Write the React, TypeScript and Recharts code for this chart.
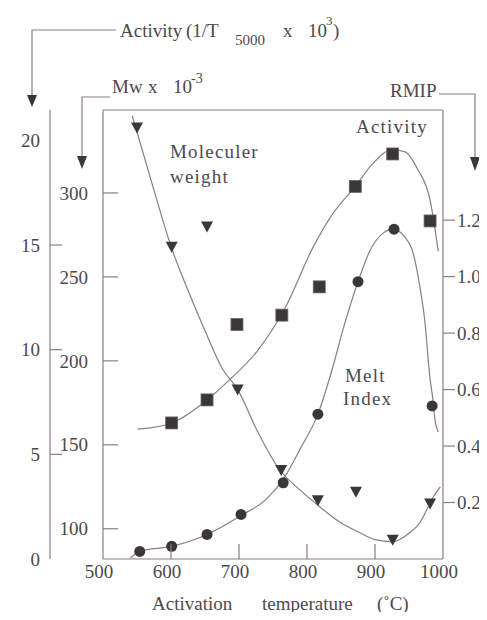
import React from 'react';
import { ComposedChart, Line, Scatter, XAxis, YAxis } from 'recharts';

const xTicks = [500, 600, 700, 800, 900, 1000];
const activityTicks = [0, 5, 10, 15, 20];
const mwTicks = [100, 150, 200, 250, 300];
const rmipTicks = [0.2, 0.4, 0.6, 0.8, 1.0, 1.2];

// Measured points (markers)
const mwPoints = [
  { t: 550, m: 339 },
  { t: 601, m: 268 },
  { t: 653, m: 280 },
  { t: 698, m: 183 },
  { t: 762, m: 135 },
  { t: 816, m: 117 },
  { t: 872, m: 122 },
  { t: 926, m: 93.5 },
  { t: 981, m: 115 },
];
const activityPoints = [
  { t: 601, a: 6.5 },
  { t: 653, a: 7.6 },
  { t: 697, a: 11.2 },
  { t: 763, a: 11.65 },
  { t: 818, a: 13.0 },
  { t: 871, a: 17.8 },
  { t: 926, a: 19.35 },
  { t: 981, a: 16.15 },
];
const rmipPoints = [
  { t: 554, r: 0.027 },
  { t: 601, r: 0.045 },
  { t: 653, r: 0.087 },
  { t: 703, r: 0.158 },
  { t: 765, r: 0.27 },
  { t: 816, r: 0.513 },
  { t: 875, r: 0.982 },
  { t: 928, r: 1.168 },
  { t: 984, r: 0.542 },
];

// Hand-drawn fitted curves
const mwCurve = [
  { t: 543, m: 346 },
  { t: 579, m: 296 },
  { t: 601, m: 267 },
  { t: 623, m: 244 },
  { t: 650, m: 218 },
  { t: 676, m: 195 },
  { t: 698, m: 183 },
  { t: 726, m: 159 },
  { t: 760, m: 135 },
  { t: 790, m: 123 },
  { t: 819, m: 113 },
  { t: 848, m: 104 },
  { t: 878, m: 97.6 },
  { t: 900, m: 93.5 },
  { t: 926, m: 92.3 },
  { t: 951, m: 97.6 },
  { t: 966, m: 103.6 },
  { t: 985, m: 118.5 },
  { t: 996, m: 125 },
];
const activityCurve = [
  { t: 551, a: 6.2 },
  { t: 601, a: 6.5 },
  { t: 653, a: 7.6 },
  { t: 684, a: 8.5 },
  { t: 726, a: 9.9 },
  { t: 768, a: 12.0 },
  { t: 809, a: 14.9 },
  { t: 838, a: 16.5 },
  { t: 871, a: 17.8 },
  { t: 897, a: 18.9 },
  { t: 925, a: 19.55 },
  { t: 944, a: 19.45 },
  { t: 963, a: 18.6 },
  { t: 981, a: 17.15 },
  { t: 993, a: 14.7 },
];
const rmipCurve = [
  { t: 540, r: 0.003 },
  { t: 554, r: 0.027 },
  { t: 601, r: 0.045 },
  { t: 653, r: 0.087 },
  { t: 703, r: 0.154 },
  { t: 741, r: 0.214 },
  { t: 765, r: 0.282 },
  { t: 790, r: 0.39 },
  { t: 816, r: 0.513 },
  { t: 838, r: 0.68 },
  { t: 853, r: 0.813 },
  { t: 875, r: 0.982 },
  { t: 893, r: 1.094 },
  { t: 912, r: 1.154 },
  { t: 926, r: 1.168 },
  { t: 944, r: 1.14 },
  { t: 956, r: 1.084 },
  { t: 966, r: 0.964 },
  { t: 973, r: 0.848 },
  { t: 981, r: 0.637 },
  { t: 985, r: 0.567 },
  { t: 988, r: 0.496 },
  { t: 993, r: 0.45 },
];

const FONT = 'Liberation Serif, DejaVu Serif, serif';
const TEXT = '#4f484d';
const LINE = '#8a7d87';
const MARK = '#3b3739';
const FS = 19;

const TriShape = (p: any) => {
  const { cx, cy } = p;
  return <polygon points={`${cx - 6},${cy - 5} ${cx + 6},${cy - 5} ${cx},${cy + 6}`} fill={MARK} />;
};
const SquareShape = (p: any) => {
  const { cx, cy } = p;
  return <rect x={cx - 6} y={cy - 6} width={12} height={12} fill={MARK} stroke="#6a6568" strokeWidth={0.8} />;
};
const CircleShape = (p: any) => {
  const { cx, cy } = p;
  return <circle cx={cx} cy={cy} r={5.5} fill={MARK} />;
};

const XTick = (p: any) => {
  const { x, y, payload } = p;
  const v = payload.value;
  const inner = v !== 500 && v !== 1000;
  return (
    <g>
      {inner && <line x1={x} y1={y} x2={x} y2={y - 15} stroke={LINE} strokeWidth={1.2} />}
      <text x={x - 4} y={y + 19} textAnchor="middle" fontSize={FS} fontFamily={FONT} fill={TEXT}>
        {v}
      </text>
    </g>
  );
};

const MwTick = (p: any) => {
  const { x, y, payload } = p;
  return (
    <g>
      <line x1={x} y1={y} x2={x + 15} y2={y} stroke={LINE} strokeWidth={1.2} />
      <text x={x - 15} y={y} dy="0.35em" textAnchor="end" fontSize={FS} fontFamily={FONT} fill={TEXT}>
        {payload.value}
      </text>
    </g>
  );
};

const ActTick = (p: any) => {
  const { x, y, payload } = p;
  const v = payload.value;
  const showLine = v !== 0 && v !== 20;
  return (
    <g>
      {showLine && <line x1={x} y1={y} x2={x + 12} y2={y} stroke={LINE} strokeWidth={1.2} />}
      <text x={x - 10} y={y} dy="0.35em" textAnchor="end" fontSize={FS} fontFamily={FONT} fill={TEXT}>
        {v}
      </text>
    </g>
  );
};

const RmipTick = (p: any) => {
  const { x, y, payload } = p;
  return (
    <g>
      <line x1={x} y1={y} x2={x + 12} y2={y} stroke={LINE} strokeWidth={1.2} />
      <text x={x + 14} y={y} dy="0.35em" textAnchor="start" fontSize={FS} fontFamily={FONT} fill={TEXT}>
        {Number(payload.value).toFixed(1)}
      </text>
    </g>
  );
};

export default function App() {
  return (
    <div style={{ position: 'relative', width: 487, height: 620, margin: -8 }}>
      <ComposedChart width={487} height={620} margin={{ top: 109, right: 0, bottom: 0, left: 0 }}>
        <XAxis
          dataKey="t"
          type="number"
          domain={[500, 1000]}
          ticks={xTicks}
          height={61}
          tickSize={0}
          tickMargin={0}
          tick={XTick}
          axisLine={{ stroke: LINE, strokeWidth: 1.2 }}
          tickLine={false}
          allowDataOverflow
        />
        <XAxis
          xAxisId="top"
          dataKey="t"
          type="number"
          orientation="top"
          domain={[500, 1000]}
          height={1}
          tick={false}
          tickLine={false}
          axisLine={{ stroke: LINE, strokeWidth: 1.2 }}
        />
        <YAxis
          yAxisId="left1"
          dataKey="m"
          type="number"
          orientation="left"
          width={53}
          domain={[82, 349.4]}
          ticks={mwTicks}
          tickSize={0}
          tickMargin={0}
          tick={MwTick}
          tickLine={false}
          axisLine={{ stroke: LINE, strokeWidth: 1.2 }}
          allowDataOverflow
        />
        <YAxis
          yAxisId="left2"
          dataKey="a"
          type="number"
          orientation="left"
          width={50}
          domain={[0, 21.45]}
          ticks={activityTicks}
          tickSize={0}
          tickMargin={0}
          tick={ActTick}
          tickLine={false}
          axisLine={{ stroke: LINE, strokeWidth: 1.2 }}
          allowDataOverflow
        />
        <YAxis
          yAxisId="rmip"
          dataKey="r"
          type="number"
          orientation="right"
          width={44}
          domain={[0, 1.59]}
          ticks={rmipTicks}
          tickSize={0}
          tickMargin={0}
          tick={RmipTick}
          tickLine={false}
          axisLine={{ stroke: LINE, strokeWidth: 1.2 }}
          allowDataOverflow
        />
        <Line data={mwCurve} dataKey="m" yAxisId="left1" type="monotone" stroke={LINE} strokeWidth={1.2} dot={false} isAnimationActive={false} />
        <Line data={activityCurve} dataKey="a" yAxisId="left2" type="monotone" stroke={LINE} strokeWidth={1.2} dot={false} isAnimationActive={false} />
        <Line data={rmipCurve} dataKey="r" yAxisId="rmip" type="monotone" stroke={LINE} strokeWidth={1.2} dot={false} isAnimationActive={false} />
        <Scatter data={mwPoints} dataKey="m" yAxisId="left1" shape={TriShape} isAnimationActive={false} />
        <Scatter data={activityPoints} dataKey="a" yAxisId="left2" shape={SquareShape} isAnimationActive={false} />
        <Scatter data={rmipPoints} dataKey="r" yAxisId="rmip" shape={CircleShape} isAnimationActive={false} />
      </ComposedChart>
      <svg
        width={487}
        height={620}
        style={{ position: 'absolute', left: 0, top: 0, pointerEvents: 'none' }}
        fontFamily={FONT}
      >
        {/* Activity axis title & bracket */}
        <polyline points="116,30 32,30 32,96" fill="none" stroke={LINE} strokeWidth={1.2} />
        <polygon points="27,95 37,95 32,107" fill={MARK} />
        <text y={37} fontSize={FS} fill={TEXT}>
          <tspan x={120}>Activity</tspan>
          <tspan x={186}>(1/T</tspan>
          <tspan x={235} y={45} fontSize={15}>5000</tspan>
          <tspan x={283} y={37}>x</tspan>
          <tspan x={308} y={37}>10</tspan>
          <tspan x={326} y={25} fontSize={13}>3</tspan>
          <tspan x={333} y={37}>)</tspan>
        </text>
        {/* Mw axis title & bracket */}
        <polyline points="110,97 82,97 82,157" fill="none" stroke={LINE} strokeWidth={1.2} />
        <polygon points="77,156 87,156 82,169" fill={MARK} />
        <text y={93} fontSize={FS} fill={TEXT}>
          <tspan x={112}>Mw</tspan>
          <tspan x={148}>x</tspan>
          <tspan x={173}>10</tspan>
          <tspan x={191} y={83} fontSize={14}>-3</tspan>
        </text>
        {/* RMIP axis title & bracket */}
        <polyline points="439,94 475,94 475,158" fill="none" stroke={LINE} strokeWidth={1.2} />
        <polygon points="470,157 480,157 475,171" fill={MARK} />
        <text x={390} y={97} fontSize={FS} fill={TEXT}>RMIP</text>
        {/* In-plot labels */}
        <text x={170} y={158} fontSize={FS} fill={TEXT} letterSpacing={1.2}>Moleculer</text>
        <text x={170} y={183} fontSize={FS} fill={TEXT} letterSpacing={1.2}>weight</text>
        <text x={356} y={133} fontSize={FS} fill={TEXT} letterSpacing={1.2}>Activity</text>
        <text x={345} y={382} fontSize={FS} fill={TEXT} letterSpacing={1.2}>Melt</text>
        <text x={343} y={405} fontSize={FS} fill={TEXT} letterSpacing={1.2}>Index</text>
        {/* X axis title */}
        <text y={610} fontSize={FS} fill={TEXT}>
          <tspan x={152}>Activation</tspan>
          <tspan x={262}>temperature</tspan>
          <tspan x={377}>(˚C)</tspan>
        </text>
      </svg>
    </div>
  );
}
